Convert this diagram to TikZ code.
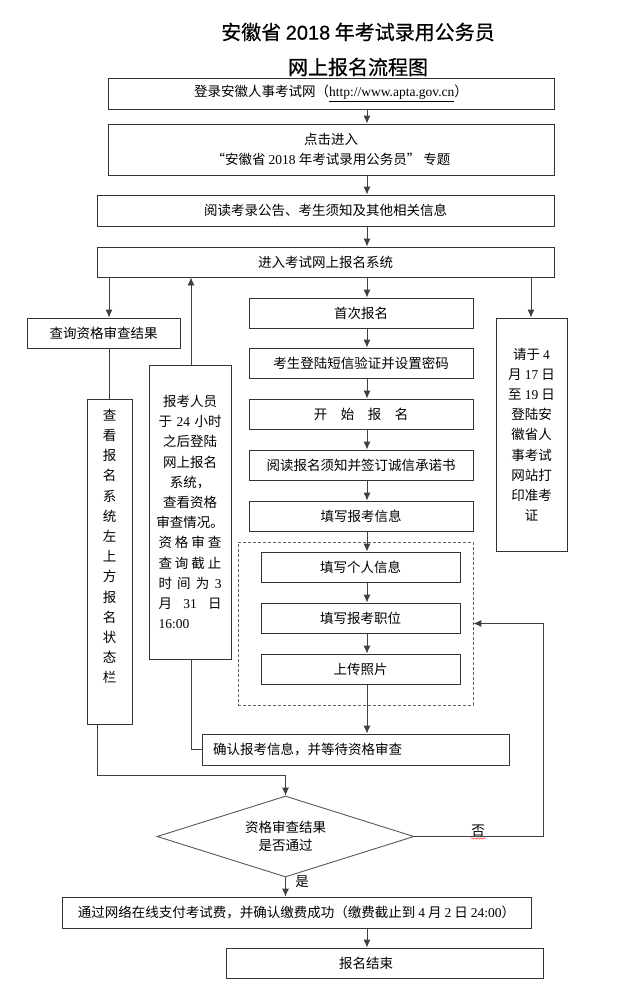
\documentclass[tikz,border=0pt]{standalone}
\usepackage{fontspec}
\setmainfont{Noto Sans CJK SC}
\newfontfamily\tnr{Liberation Serif}
\newfontfamily\ars{Liberation Sans}
\newfontfamily\titlecjk{Noto Sans CJK SC}[FakeBold=0.5]
\newfontfamily\titlears{Liberation Sans}[FakeBold=0.5]
\usetikzlibrary{shapes.geometric,arrows.meta,decorations.pathmorphing}
\newcommand\jl[1]{\makebox[63pt][s]{#1}}
\begin{document}
\begin{tikzpicture}[x=1pt,y=-1pt,
  every node/.style={font=\fontsize{13.5}{20.2}\selectfont, inner sep=0pt},
  box/.style={draw=black!80, line width=0.9pt, rectangle, fill=white},
  line/.style={draw=black!75, line width=0.9pt},
  arr/.style={line, -{Latex[length=8pt,width=7pt]}},
  titlefont/.style={font=\fontsize{20}{24}\selectfont\titlecjk}
]
\useasboundingbox (0,0) rectangle (640,991);
\fill[white] (0,0) rectangle (640,991);

% titles
\node[titlefont] (t1) at (358,32) {安徽省 {\titlears 2018} 年考试录用公务员};
\node[titlefont] (t2) at (358,67) {网上报名流程图};

% top boxes
\node[box, minimum width=446, minimum height=31] (b1) at (331,93.5)
  {登录安徽人事考试网（\underline{\tnr http://www.apta.gov.cn}）};
\node[box, minimum width=446, minimum height=51, align=center] (b2) at (331,149.5)
  {点击进入\\“安徽省 {\tnr 2018} 年考试录用公务员” 专题};
\node[box, minimum width=457, minimum height=31] (b3) at (325.5,210.5)
  {阅读考录公告、考生须知及其他相关信息};
\node[box, minimum width=457, minimum height=30] (b4) at (325.5,262)
  {进入考试网上报名系统};

% left column
\node[box, minimum width=153, minimum height=30] (q) at (103.5,333) {查询资格审查结果};
\node[box, minimum width=45, minimum height=325] (tall) at (109.5,561.5)
  {\raisebox{14pt}[\height][\depth]{\begin{tabular}{@{}c@{}}查\\看\\报\\名\\系\\统\\左\\上\\方\\报\\名\\状\\态\\栏\end{tabular}}};
\node[box, minimum width=82, minimum height=294, text width=68, align=center] (bk) at (190,512)
  {报考人员\\于 {\tnr 24} 小时\\之后登陆\\网上报名\\系统，\\查看资格\\审查情况。\\
   \jl{资\hfil 格\hfil 审\hfil 查}\\\jl{查\hfil 询\hfil 截\hfil 止}\\
   \jl{时\hfil 间\hfil 为\hfil {\tnr 3}}\\\jl{月\hfil {\tnr 31}\hfil 日}\\
   \makebox[63pt][l]{\tnr 16:00}};

% right column
\node[box, minimum width=71, minimum height=233, align=center] (r) at (531.5,434.5)
  {请于 {\tnr 4}\\月 {\tnr 17} 日\\至 {\tnr 19} 日\\登陆安\\徽省人\\事考试\\网站打\\印准考\\证};

% main chain
\node[box, minimum width=224, minimum height=30] (s1) at (361,313) {首次报名};
\node[box, minimum width=224, minimum height=30] (s2) at (361,363) {考生登陆短信验证并设置密码};
\node[box, minimum width=224, minimum height=30] (s3) at (361,414) {开\hspace{1em}始\hspace{1em}报\hspace{1em}名};
\node[box, minimum width=224, minimum height=30] (s4) at (361,465) {阅读报名须知并签订诚信承诺书};
\node[box, minimum width=224, minimum height=30] (s5) at (361,516) {填写报考信息};

\node[draw=black!60, line width=0.8pt, dash pattern=on 3pt off 2pt, minimum width=235, minimum height=163] (dash) at (355.5,623.5) {};
\node[box, minimum width=199, minimum height=30] (p1) at (360.5,567) {填写个人信息};
\node[box, minimum width=199, minimum height=30] (p2) at (360.5,618) {填写报考职位};
\node[box, minimum width=199, minimum height=30] (p3) at (360.5,669) {上传照片};

\node[box, minimum width=307, minimum height=31, text width=285, inner xsep=11pt, align=left] (c) at (355.5,749.5)
  {确认报考信息，并等待资格审查};

\node[draw=black!65, line width=0.9pt, diamond, aspect=3.2, fill=white, minimum width=257, minimum height=81, align=center,
      font=\fontsize{13.5}{18}\selectfont] (d) at (285.5,836.5) {资格审查结果\\是否通过};

\node[box, minimum width=469, minimum height=31] (pay) at (296.5,912.5)
  {通过网络在线支付考试费，并确认缴费成功（缴费截止到 {\tnr 4} 月 {\tnr 2} 日 {\tnr 24:00}）};
\node[box, minimum width=317, minimum height=30, text width=297, inner xsep=10pt, align=left] (end) at (384.5,963)
  {\hspace*{103pt}报名结束};

% labels
\node (no) at (478,831) {否};
\node (yes) at (302,882) {是};
\draw[red!80, line width=0.5pt, decorate, decoration={snake, amplitude=0.7pt, segment length=3pt}] (471,838.5) -- (486,838.5);

% x positions
\coordinate (xA) at (367,0);
\coordinate (xL) at (109,0);
\coordinate (xU) at (191,0);
\coordinate (xR) at (531,0);
\coordinate (xT) at (97,0);
\coordinate (xN) at (543,0);

% connectors
\draw[arr] (b1.south -| xA) -- (b2.north -| xA);
\draw[arr] (b2.south -| xA) -- (b3.north -| xA);
\draw[arr] (b3.south -| xA) -- (b4.north -| xA);
\draw[arr] (b4.south -| xL) -- (q.north -| xL);
\draw[arr] (bk.north -| xU) -- (b4.south -| xU);
\draw[arr] (b4.south -| xA) -- (s1.north -| xA);
\draw[arr] (b4.south -| xR) -- (r.north -| xR);
\draw[arr] (s1.south -| xA) -- (s2.north -| xA);
\draw[arr] (s2.south -| xA) -- (s3.north -| xA);
\draw[arr] (s3.south -| xA) -- (s4.north -| xA);
\draw[arr] (s4.south -| xA) -- (s5.north -| xA);
\draw[arr] (s5.south -| xA) -- (p1.north -| xA);
\draw[arr] (p1.south -| xA) -- (p2.north -| xA);
\draw[arr] (p2.south -| xA) -- (p3.north -| xA);
\draw[arr] (p3.south -| xA) -- (c.north -| xA);
\draw[line] (q.south -| xL) -- (tall.north -| xL);
\draw[line] (bk.south -| xU) |- (c.west);
\draw[arr] (tall.south -| xT) -- ++(0,51) -| (d.north);
\draw[arr] (d.east) -- (d.east -| xN) |- (dash.east);
\draw[arr] (d.south) -- (pay.north -| d.south);
\draw[arr] (pay.south -| xA) -- (end.north -| xA);
\end{tikzpicture}
\end{document}
